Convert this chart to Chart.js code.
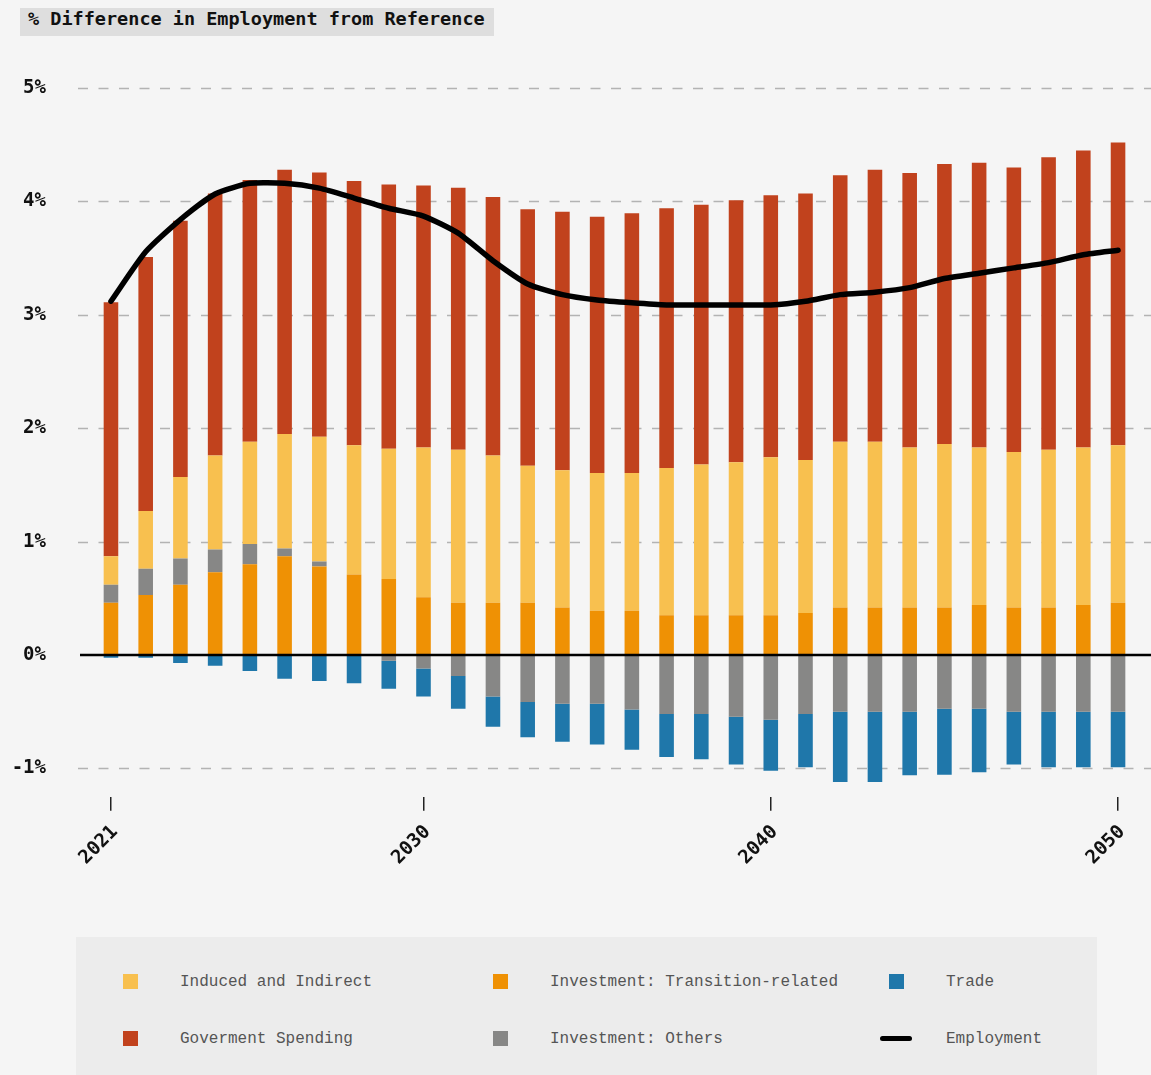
<!DOCTYPE html>
<html>
<head>
<meta charset="utf-8">
<script src="https://cdn.jsdelivr.net/npm/chart.js@4/dist/chart.umd.min.js"></script>
<style>
  html, body { margin: 0; padding: 0; background: #f5f5f5; }
  body { width: 1151px; height: 1075px; position: relative; overflow: hidden; }
  #title {
    position: absolute; left: 20px; top: 8px; height: 28px; line-height: 28px;
    padding: 0 9px 0 8px; background: #dedede; color: #111;
    font: bold 18.5px "DejaVu Sans Mono", monospace;
  }
  #wrap { position: absolute; left: 0; top: 0; width: 1151px; height: 900px; }
  #legend {
    position: absolute; left: 76px; top: 937px; width: 1021px; height: 138px;
    background: #ececec;
  }
  .item { position: absolute; height: 20px; font: 16px "Liberation Mono", monospace; color: #555; }
  .item .mk { position: absolute; left: 0; top: 2px; width: 15px; height: 15px; }
  .item .mk.line { top: 7px; left: -9px; width: 32px; height: 5px; border-radius: 3px; background: #000; }
  .item span { position: absolute; white-space: nowrap; line-height: 20px; }
</style>
</head>
<body>
<div id="title">% Difference in Employment from Reference</div>
<div id="wrap"><canvas id="c"></canvas></div>
<div id="legend"></div>
<script>
const years = ['2021','2022','2023','2024','2025','2026','2027','2028','2029','2030',
  '2031','2032','2033','2034','2035','2036','2037','2038','2039','2040',
  '2041','2042','2043','2044','2045','2046','2047','2048','2049','2050'];
const shownYears = ['2021', '2030', '2040', '2050'];
const yTicks = [-1, 0, 1, 2, 3, 4, 5];

const transition = [0.46, 0.53, 0.62, 0.73, 0.80, 0.87, 0.78, 0.71, 0.67, 0.51,
  0.46, 0.46, 0.46, 0.42, 0.39, 0.39, 0.35, 0.35, 0.35, 0.35,
  0.37, 0.42, 0.42, 0.42, 0.42, 0.44, 0.42, 0.42, 0.44, 0.46];
const others = [0.16, 0.23, 0.23, 0.20, 0.18, 0.07, 0.045, 0, -0.05, -0.12,
  -0.185, -0.365, -0.415, -0.43, -0.43, -0.48, -0.52, -0.52, -0.545, -0.57,
  -0.52, -0.50, -0.50, -0.50, -0.475, -0.475, -0.50, -0.50, -0.50, -0.50];
const induced = [0.25, 0.51, 0.72, 0.83, 0.90, 1.01, 1.10, 1.14, 1.15, 1.32,
  1.35, 1.30, 1.21, 1.21, 1.215, 1.215, 1.30, 1.33, 1.35, 1.395,
  1.35, 1.46, 1.46, 1.41, 1.44, 1.39, 1.37, 1.39, 1.39, 1.39];
const government = [2.24, 2.24, 2.26, 2.31, 2.31, 2.33, 2.33, 2.33, 2.33, 2.31,
  2.31, 2.28, 2.26, 2.28, 2.26, 2.29, 2.29, 2.29, 2.31, 2.31,
  2.35, 2.35, 2.40, 2.42, 2.47, 2.51, 2.51, 2.58, 2.62, 2.67];
const trade = [-0.025, -0.025, -0.07, -0.095, -0.14, -0.21, -0.23, -0.25, -0.247, -0.245,
  -0.29, -0.267, -0.31, -0.336, -0.36, -0.356, -0.38, -0.40, -0.42, -0.45,
  -0.47, -0.62, -0.62, -0.56, -0.58, -0.56, -0.465, -0.49, -0.49, -0.49];
const employment = [3.12, 3.556, 3.84, 4.066, 4.16, 4.16, 4.117, 4.03, 3.94, 3.871,
  3.72, 3.477, 3.272, 3.178, 3.131, 3.106, 3.087, 3.087, 3.087, 3.087,
  3.12, 3.178, 3.20, 3.24, 3.32, 3.367, 3.414, 3.46, 3.53, 3.57];

const COLORS = {
  induced: '#F8C04F',
  transition: '#EF9104',
  trade: '#1F77AA',
  government: '#C1421D',
  others: '#878786',
  employment: '#000000',
};

const MONO = '"DejaVu Sans Mono", monospace';

function bar(label, data, color) {
  return {
    type: 'bar', label, data, backgroundColor: color,
    borderWidth: 0, categoryPercentage: 1, barPercentage: 0.42,
  };
}

// grid lines drawn across the whole width, like the original
const gridPlugin = {
  id: 'dashGrid',
  beforeDatasetsDraw(chart) {
    const { ctx, scales: { y } } = chart;
    ctx.save();
    ctx.strokeStyle = '#b3b3b3';
    ctx.lineWidth = 1.5;
    ctx.setLineDash([10, 10.5]);
    yTicks.forEach((v) => {
      if (v === 0) return;
      const py = Math.round(y.getPixelForValue(v)) + 0.5;
      ctx.beginPath();
      ctx.moveTo(78, py);
      ctx.lineTo(1151, py);
      ctx.stroke();
    });
    ctx.restore();
  },
  afterDatasetsDraw(chart) {
    const { ctx, scales: { y } } = chart;
    const py = y.getPixelForValue(0);
    ctx.save();
    ctx.strokeStyle = '#000';
    ctx.lineWidth = 2.5;
    ctx.beginPath();
    ctx.moveTo(80, py);
    ctx.lineTo(1151, py);
    ctx.stroke();
    ctx.restore();
  },
};

new Chart(document.getElementById('c'), {
  type: 'bar',
  data: {
    labels: years,
    datasets: [
      {
        type: 'line', label: 'Employment', data: employment, stack: 'emp', order: -1,
        borderColor: COLORS.employment, borderWidth: 5.5, pointRadius: 0,
        borderCapStyle: 'round', borderJoinStyle: 'round', tension: 0.2,
        fill: false,
      },
      bar('Investment: Transition-related', transition, COLORS.transition),
      bar('Investment: Others', others, COLORS.others),
      bar('Induced and Indirect', induced, COLORS.induced),
      bar('Goverment Spending', government, COLORS.government),
      bar('Trade', trade, COLORS.trade),
    ],
  },
  options: {
    responsive: true,
    maintainAspectRatio: false,
    animation: false,
    // top of plot area comes from the y tick padding (half label height + 47.6)
    layout: { padding: { left: 0, right: 15.6, top: 0, bottom: 0 } },
    plugins: { legend: { display: false }, tooltip: { enabled: false } },
    scales: {
      x: {
        stacked: true,
        offset: true,
        border: { display: false },
        grid: {
          offset: false,
          drawOnChartArea: false,
          drawTicks: true,
          tickLength: 14,
          lineWidth: 1.5,
          color: (ctx) => (ctx.tick && shownYears.includes(years[ctx.index]) ? '#222' : 'rgba(0,0,0,0)'),
        },
        ticks: {
          autoSkip: false,
          minRotation: 45,
          maxRotation: 45,
          padding: 10,
          labelOffset: 4,
          color: '#111',
          font: { family: MONO, size: 19, weight: 'bold' },
          callback: (v, i) => (shownYears.includes(years[i]) ? years[i] : ''),
        },
        afterFit(scale) { scale.height = 103.25; },
      },
      y: {
        stacked: true,
        min: -1.25,
        max: 5.256,
        border: { display: false },
        grid: { display: false, drawTicks: false },
        ticks: {
          stepSize: 1,
          padding: 47.6,
          color: '#111',
          font: { family: MONO, size: 19, weight: 'bold' },
          callback: (v) => (Number.isInteger(v) ? v + '%' : ''),
        },
        afterFit(scale) { scale.width = 93.6; },
      },
    },
  },
  plugins: [gridPlugin],
});

// legend
const legendItems = [
  { label: 'Induced and Indirect', color: COLORS.induced, col: 0, row: 0 },
  { label: 'Investment: Transition-related', color: COLORS.transition, col: 1, row: 0 },
  { label: 'Trade', color: COLORS.trade, col: 2, row: 0 },
  { label: 'Goverment Spending', color: COLORS.government, col: 0, row: 1 },
  { label: 'Investment: Others', color: COLORS.others, col: 1, row: 1 },
  { label: 'Employment', color: COLORS.employment, col: 2, row: 1, line: true },
];
const colX = [47, 417, 813];
const rowY = [35, 92];
const legend = document.getElementById('legend');
legendItems.forEach((it) => {
  const d = document.createElement('div');
  d.className = 'item';
  d.style.left = colX[it.col] + 'px';
  d.style.top = rowY[it.row] + 'px';
  const mk = document.createElement('div');
  mk.className = it.line ? 'mk line' : 'mk';
  if (!it.line) mk.style.background = it.color;
  const s = document.createElement('span');
  s.style.left = '57px';
  s.textContent = it.label;
  d.appendChild(mk);
  d.appendChild(s);
  legend.appendChild(d);
});
</script>
</body>
</html>
